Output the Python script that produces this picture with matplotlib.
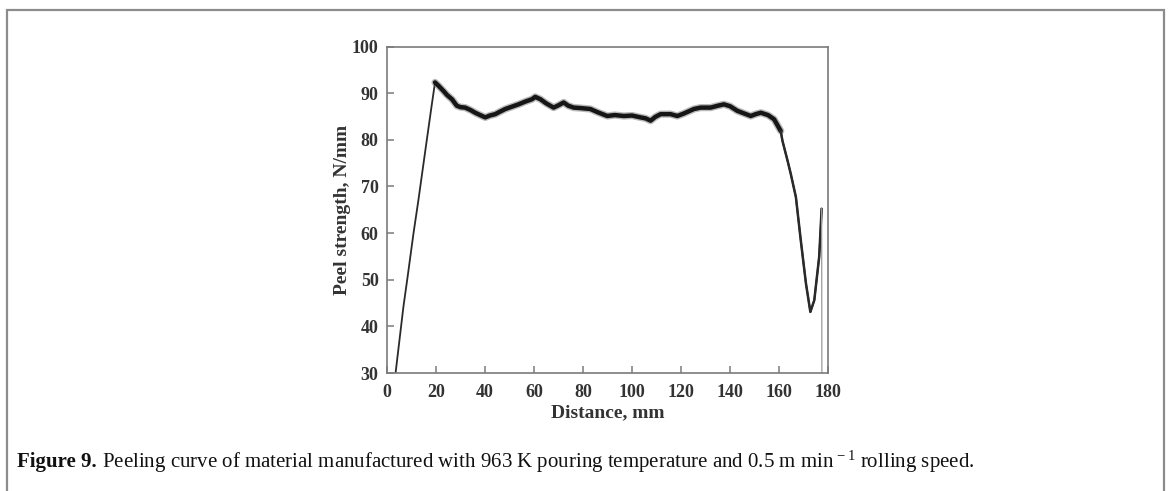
import matplotlib
matplotlib.use("Agg")
import matplotlib.pyplot as plt
from matplotlib.patches import Rectangle

# ---- data ----
distance = [3.5, 4.6, 6.7, 8.3, 10.8, 12.8, 16.2, 18.3, 19.6, 21.0, 23.0, 24.5, 26.5, 28.5,
            30.0, 31.9, 34.0, 36.0, 38.0, 40.1, 42.0, 44.2, 46.0, 48.3, 51.0, 53.7, 56.5,
            59.2, 60.5, 62.6, 65.0, 68.0, 70.0, 72.1, 74.0, 76.2, 79.0, 83.0, 86.0, 89.9,
            93.0, 96.7, 100.0, 103.5, 105.5, 107.6, 109.5, 111.7, 115.7, 118.5, 121.0,
            125.3, 128.0, 132.1, 135.0, 137.5, 140.0, 143.0, 146.0, 148.5, 150.5, 152.6,
            155.5, 158.0, 160.7, 161.4, 163.5, 164.8, 166.9, 168.9, 171.0, 172.8, 174.4,
            176.4, 177.4, 177.5]
strength = [30.0, 34.9, 44.2, 50.2, 59.9, 67.0, 79.8, 87.6, 92.3, 91.6, 90.5, 89.6, 88.7, 87.3,
            87.0, 86.9, 86.4, 85.8, 85.3, 84.8, 85.2, 85.5, 86.0, 86.6, 87.1, 87.6, 88.2,
            88.7, 89.2, 88.7, 87.8, 86.9, 87.4, 88.0, 87.3, 86.9, 86.8, 86.6, 85.9, 85.1,
            85.3, 85.1, 85.2, 84.8, 84.6, 84.1, 84.9, 85.5, 85.5, 85.1, 85.6, 86.6, 86.9,
            86.9, 87.3, 87.6, 87.2, 86.2, 85.6, 85.1, 85.5, 85.8, 85.3, 84.4, 81.9, 79.8,
            75.5, 72.7, 67.7, 58.4, 49.2, 43.1, 45.6, 54.9, 65.2, 30.0]

x_ticks = [0, 20, 40, 60, 80, 100, 120, 140, 160, 180]
y_ticks = [30, 40, 50, 60, 70, 80, 90, 100]
x_label = "Distance, mm"
y_label = "Peel strength, N/mm"
caption_bold = "Figure 9."
caption_rest = " Peeling curve of material manufactured with 963 K pouring temperature and 0.5 m min$^{\\,-1}$ rolling speed."

plt.rcParams["font.family"] = ["Liberation Serif", "DejaVu Serif"]
plt.rcParams["mathtext.fontset"] = "custom"
plt.rcParams["mathtext.rm"] = "Liberation Serif"
plt.rcParams["mathtext.it"] = "Liberation Serif:italic"

fig = plt.figure(figsize=(11.68, 4.91), dpi=100)
fig.patch.set_facecolor("white")

# outer frame
fig.patches.append(Rectangle((7.3 / 1168, -0.05), (1164 - 7.3) / 1168, 1.05 - 10 / 491,
                             transform=fig.transFigure, fill=False,
                             edgecolor="#8c8c8c", linewidth=1.6))

ax = fig.add_axes([387 / 1168, 1 - 373 / 491, (828 - 387) / 1168, (373 - 46.5) / 491])

n = len(distance)
i_a = distance.index(19.6)
i_b = distance.index(160.7)
# thin curve throughout
ax.plot(distance[:n - 1], strength[:n - 1], color="#2a2a2a", lw=1.3)
# fuzzy thick band on plateau
ax.plot(distance[i_a:i_b + 1], strength[i_a:i_b + 1], color="#666666", lw=5.2, alpha=0.45,
        solid_joinstyle="round", solid_capstyle="round")
ax.plot(distance[i_a:i_b + 1], strength[i_a:i_b + 1], color="#161616", lw=3.2,
        solid_joinstyle="round", solid_capstyle="round")
ax.plot(distance[i_b:n - 1], strength[i_b:n - 1], color="#2a2a2a", lw=1.8,
        solid_capstyle="round")
# final drop to zero
ax.plot(distance[n - 2:], strength[n - 2:], color="#9a9a9a", lw=0.9)

ax.set_xlim(0, 180)
ax.set_ylim(30, 100)
ax.set_xticks(x_ticks)
ax.set_yticks(y_ticks)
for s in ax.spines.values():
    s.set_color("#7a7a7a")
    s.set_linewidth(1.2)
ax.tick_params(direction="in", length=5, width=1.1, color="#7a7a7a",
               labelsize=13, labelcolor="#333333")
ax.tick_params(axis="x", pad=8)
ax.tick_params(axis="y", pad=6)
for lab in ax.get_xticklabels() + ax.get_yticklabels():
    lab.set_fontweight("bold")
ax.set_xlabel(x_label, fontsize=14, fontweight="bold", color="#333333", labelpad=2)
ax.set_ylabel(y_label, fontsize=14, fontweight="bold", color="#333333", labelpad=1)

# caption
renderer = fig.canvas.get_renderer()
t1 = fig.text(17 / 1168, 1 - 462 / 491, caption_bold, fontsize=15, fontweight="bold",
              color="#111111", va="center", ha="left")
bb = t1.get_window_extent(renderer=renderer)
fig.text(bb.x1 / fig.bbox.width, 1 - 462 / 491, caption_rest, fontsize=15,
         color="#111111", va="center", ha="left")

fig.savefig("out.png", dpi=100, facecolor="white")
